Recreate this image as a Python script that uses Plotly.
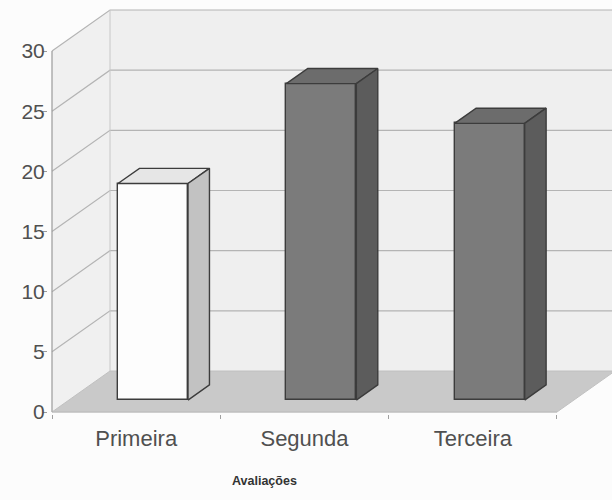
import plotly.graph_objects as go

# ---- data ----
categories = ["Primeira", "Segunda", "Terceira"]
values = [18, 26.3, 23]
front_colors = ["#fdfdfd", "#7b7b7b", "#7b7b7b"]
top_colors = ["#e6e6e6", "#6c6c6c", "#6c6c6c"]
side_colors = ["#c2c2c2", "#5c5c5c", "#5c5c5c"]
y_ticks = [0, 5, 10, 15, 20, 25, 30]
axis_title = "Avaliações"

# ---- pseudo-3D geometry (in axis units) ----
YMAX = 30
DX, DY = 0.3446, 3.407          # full depth offset of the walls
F0, F1 = 0.29, 0.66             # depth fraction of bar front / back
BW = 0.416                      # bar width (category units)
XL, XR = -0.5, len(categories) - 0.5

PX_CAT = 168.33
PX_VAL = 12.033
ML, MB = 48, 86
W, H = 612, 500
x0 = XL - (52 - ML) / PX_CAT
x1 = x0 + (W - ML) / PX_CAT
y0 = -(H - MB - 412) / PX_VAL
y1 = y0 + (H - MB) / PX_VAL

fig = go.Figure()
shapes = []

def path(xs, ys, closed=True):
    p = "M " + " L ".join(f"{x},{y}" for x, y in zip(xs, ys))
    return p + (" Z" if closed else "")

def bg_poly(xs, ys, fill, line_color=None, width=0):
    shapes.append(dict(type="path", path=path(xs, ys), xref="x", yref="y",
                       fillcolor=fill, layer="below",
                       line=dict(color=line_color or fill, width=width)))

def bg_seg(xs, ys, color, width=1):
    shapes.append(dict(type="path", path=path(xs, ys, False), xref="x", yref="y",
                       layer="below", line=dict(color=color, width=width)))

def poly(xs, ys, fill, line_color, width):
    fig.add_trace(go.Scatter(
        x=xs + [xs[0]], y=ys + [ys[0]], mode="lines", fill="toself",
        fillcolor=fill, line=dict(color=line_color, width=width),
        hoverinfo="skip", showlegend=False))

# back wall
bg_poly([XL + DX, XR + DX, XR + DX, XL + DX], [DY, DY, DY + YMAX, DY + YMAX], "#efefef")
# left wall
bg_poly([XL, XL, XL + DX, XL + DX], [0, YMAX, YMAX + DY, DY], "#f0f0f0")
# gridlines
for v in y_ticks[1:]:
    bg_seg([XL, XL + DX, XR + DX], [v, v + DY, v + DY], "#b4b4b4", 1.2)
bg_seg([XL + DX, XL + DX], [DY, DY + YMAX], "#c8c8c8", 1)
# floor
bg_poly([XL, XR, XR + DX, XL + DX], [0, 0, DY, DY], "#c9c9c9", "#c0c0c0", 1)
# front axis lines
bg_seg([XL, XL], [0, YMAX], "#9a9a9a", 1.2)
bg_seg([XL, XR], [0, 0], "#bdbdbd", 1)

# bars: front faces
fig.add_trace(go.Bar(
    x=[i + F0 * DX for i in range(len(categories))],
    y=values, base=[F0 * DY] * len(values), width=BW,
    marker=dict(color=front_colors, line=dict(color="#3c3c3c", width=1.4)),
    hoverinfo="skip", showlegend=False))

# bars: top and side faces
for i, v in enumerate(values):
    xl = i - BW / 2
    xr = i + BW / 2
    poly([xl + F0 * DX, xr + F0 * DX, xr + F1 * DX, xl + F1 * DX],
         [v + F0 * DY, v + F0 * DY, v + F1 * DY, v + F1 * DY],
         top_colors[i], "#3c3c3c", 1.4)
    poly([xr + F0 * DX, xr + F1 * DX, xr + F1 * DX, xr + F0 * DX],
         [F0 * DY, F1 * DY, F1 * DY + v, F0 * DY + v],
         side_colors[i], "#3c3c3c", 1.4)

pw, ph = W - ML, H - MB
fig.update_layout(
    width=W, height=H,
    margin=dict(l=ML, r=0, t=0, b=MB),
    paper_bgcolor="#fcfcfc", plot_bgcolor="rgba(0,0,0,0)",
    font=dict(family="Liberation Sans, Arial, sans-serif", color="#444444"),
    shapes=shapes,
    xaxis=dict(range=[x0, x1], tickvals=list(range(len(categories))),
               ticktext=categories, ticks="", showgrid=False, zeroline=False,
               showline=False, tickfont=dict(size=22, color="#505050"),
               ticklabelstandoff=9,
               minor=dict(tickvals=[XL + k for k in range(len(categories) + 1)],
                          ticks="outside", ticklen=4, tickcolor="#a0a0a0",
                          showgrid=False)),
    yaxis=dict(range=[y0, y1], tickvals=y_ticks, ticks="outside", ticklen=4,
               tickcolor="#9a9a9a", showgrid=False, zeroline=False,
               showline=False, tickfont=dict(size=21, color="#505050"),
               ticklabelstandoff=-6),
    bargap=0,
    annotations=[dict(text="<b>" + axis_title + "</b>",
                      x=(264 - ML) / pw, y=-(490 - ph) / ph,
                      xref="paper", yref="paper", showarrow=False,
                      font=dict(size=12.5, color="#333333"))],
)

fig.write_html("out.html")
